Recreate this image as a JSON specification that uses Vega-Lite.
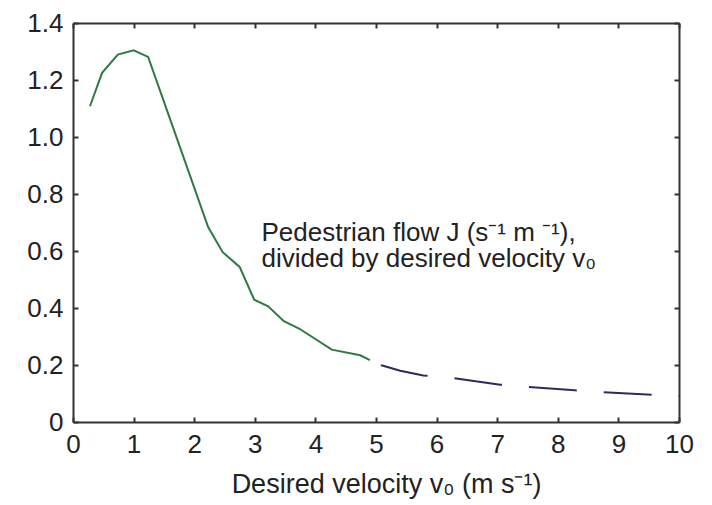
{
  "$schema": "https://vega.github.io/schema/vega-lite/v6.json",
  "width": 606,
  "height": 399,
  "autosize": {"type": "none"},
  "padding": {"left": 73, "top": 23, "right": 33, "bottom": 83},
  "background": "white",
  "config": {
    "view": {"stroke": null},
    "font": "Liberation Sans",
    "axis": {
      "grid": false,
      "labelFlush": false,
      "domainColor": "#333333",
      "domainWidth": 2,
      "tickColor": "#333333",
      "tickWidth": 2,
      "tickSize": -5,
      "labelFont": "Liberation Sans",
      "labelFontSize": 26,
      "labelColor": "#222222",
      "titleFont": "Liberation Sans",
      "titleFontSize": 27,
      "titleFontWeight": "normal",
      "titleColor": "#222222"
    }
  },
  "datasets": {
    "curve": [
      {"v0": 0.28, "flow": 1.108, "segment": "solid"},
      {"v0": 0.48, "flow": 1.225, "segment": "solid"},
      {"v0": 0.74, "flow": 1.289, "segment": "solid"},
      {"v0": 1.00, "flow": 1.304, "segment": "solid"},
      {"v0": 1.24, "flow": 1.281, "segment": "solid"},
      {"v0": 1.71, "flow": 0.998, "segment": "solid"},
      {"v0": 2.23, "flow": 0.684, "segment": "solid"},
      {"v0": 2.47, "flow": 0.596, "segment": "solid"},
      {"v0": 2.75, "flow": 0.544, "segment": "solid"},
      {"v0": 2.99, "flow": 0.429, "segment": "solid"},
      {"v0": 3.22, "flow": 0.406, "segment": "solid"},
      {"v0": 3.48, "flow": 0.354, "segment": "solid"},
      {"v0": 3.73, "flow": 0.328, "segment": "solid"},
      {"v0": 4.27, "flow": 0.254, "segment": "solid"},
      {"v0": 4.74, "flow": 0.234, "segment": "solid"},
      {"v0": 4.90, "flow": 0.217, "segment": "solid"},
      {"v0": 4.90, "flow": 0.217, "segment": "dashed"},
      {"v0": 5.09, "flow": 0.199, "segment": "dashed"},
      {"v0": 5.40, "flow": 0.180, "segment": "dashed"},
      {"v0": 5.78, "flow": 0.163, "segment": "dashed"},
      {"v0": 6.22, "flow": 0.156, "segment": "dashed"},
      {"v0": 7.05, "flow": 0.131, "segment": "dashed"},
      {"v0": 7.49, "flow": 0.123, "segment": "dashed"},
      {"v0": 8.28, "flow": 0.111, "segment": "dashed"},
      {"v0": 8.72, "flow": 0.105, "segment": "dashed"},
      {"v0": 9.55, "flow": 0.096, "segment": "dashed"},
      {"v0": 10.0, "flow": 0.091, "segment": "dashed"}
    ]
  },
  "layer": [
    {
      "data": {"name": "curve"},
      "transform": [{"filter": "datum.segment === 'solid'"}],
      "mark": {"type": "line", "color": "#2f7a44", "strokeWidth": 2},
      "encoding": {
        "x": {
          "field": "v0", "type": "quantitative",
          "scale": {"domain": [0, 10], "nice": false, "zero": false},
          "axis": {
            "orient": "bottom",
            "values": [0, 1, 2, 3, 4, 5, 6, 7, 8, 9, 10],
            "labelPadding": 14,
            "title": "Desired velocity v₀ (m s⁻¹)",
            "titlePadding": 14,
            "titleX": 313
          }
        },
        "y": {
          "field": "flow", "type": "quantitative",
          "scale": {"domain": [0, 1.4], "nice": false},
          "axis": {
            "orient": "left",
            "values": [0, 0.2, 0.4, 0.6, 0.8, 1.0, 1.2, 1.4],
            "labelExpr": "datum.value == 0 ? '0' : format(datum.value, '.1f')",
            "labelPadding": 15,
            "title": null
          }
        }
      }
    },
    {
      "data": {"name": "curve"},
      "transform": [{"filter": "datum.segment === 'dashed'"}],
      "mark": {"type": "line", "color": "#2b2b5e", "strokeWidth": 2, "strokeDash": [48, 27], "strokeDashOffset": 63},
      "encoding": {
        "x": {
          "field": "v0", "type": "quantitative",
          "axis": {"orient": "top", "values": [0, 1, 2, 3, 4, 5, 6, 7, 8, 9, 10], "labels": false, "title": null}
        },
        "y": {
          "field": "flow", "type": "quantitative",
          "axis": {"orient": "right", "values": [0, 0.2, 0.4, 0.6, 0.8, 1.0, 1.2, 1.4], "labels": false, "title": null}
        }
      }
    },
    {
      "data": {"values": [{"note": "annotation"}]},
      "mark": {
        "type": "text",
        "text": ["Pedestrian flow J (s⁻¹ m ⁻¹),", "divided by desired velocity v₀"],
        "align": "left",
        "baseline": "alphabetic",
        "fontSize": 26,
        "lineHeight": 26,
        "color": "#222222",
        "font": "Liberation Sans"
      },
      "encoding": {
        "x": {"datum": 3.11, "type": "quantitative", "axis": null},
        "y": {"datum": 0.634, "type": "quantitative", "axis": null}
      }
    }
  ],
  "resolve": {"axis": {"x": "independent", "y": "independent"}}
}
